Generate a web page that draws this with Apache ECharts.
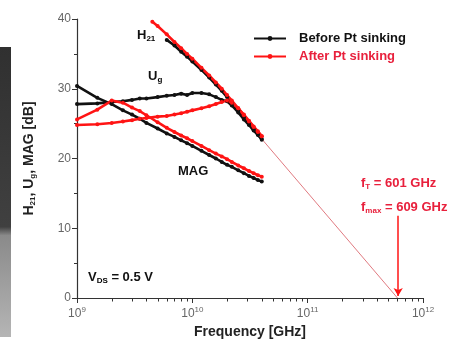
<!DOCTYPE html>
<html>
<head>
<meta charset="utf-8">
<script src="https://cdn.jsdelivr.net/npm/echarts@6.0.0/dist/echarts.min.js"></script>
<style>
  html, body { margin: 0; padding: 0; background: #fff; }
  #chart { width: 458px; height: 350px; }
</style>
</head>
<body>
<div id="chart"></div>
<script>
// ── data (frequency in GHz, gains in dB) ──
var freqGHz = [1, 1.5, 2, 2.5, 3, 3.5, 4, 5, 6, 7, 8, 9, 10, 12, 14, 16, 18, 20, 22, 25, 28, 31, 34, 37, 40];
var magBefore = [30.4, 28.7, 27.8, 26.9, 26.3, 25.7, 25.1, 24.3, 23.6, 23.1, 22.6, 22.2, 21.8, 21.1, 20.5, 20.0, 19.5, 19.1, 18.8, 18.3, 17.9, 17.5, 17.2, 16.9, 16.7];
var magAfter = [25.6, 27.0, 28.3, 28.0, 27.3, 26.8, 26.2, 25.2, 24.4, 23.8, 23.3, 22.9, 22.5, 21.8, 21.2, 20.7, 20.3, 19.9, 19.5, 19.0, 18.6, 18.2, 17.9, 17.6, 17.4];
var ugBefore = [27.8, 27.9, 28.1, 28.2, 28.4, 28.6, 28.6, 28.8, 29.0, 29.1, 29.3, 29.1, 29.4, 29.4, 29.2, 28.8, 28.4, 28.2, 27.6, 26.6, 25.6, 24.8, 24.0, 23.4, 22.8];
var ugAfter = [24.8, 24.9, 25.1, 25.3, 25.5, 25.7, 25.8, 26.0, 26.1, 26.3, 26.5, 26.7, 26.9, 27.2, 27.5, 27.8, 28.1, 28.3, 28.0, 27.2, 26.3, 25.4, 24.6, 23.9, 23.2];
var h21FreqBefore = [6, 7, 8, 9, 10, 12, 14, 16, 18, 20, 22, 25, 28, 31, 34, 37, 40];
var h21Before = [37.0, 36.2, 35.3, 34.6, 33.9, 32.7, 31.6, 30.6, 29.7, 28.8, 28.0, 26.9, 25.9, 25.0, 24.2, 23.4, 22.7];
var h21FreqAfter = [4.5, 5, 6, 7, 8, 9, 10, 12, 14, 16, 18, 20, 22, 25, 28, 31, 34, 37, 40];
var h21After = [39.6, 39.0, 37.8, 36.7, 35.8, 35.0, 34.3, 33.0, 31.9, 30.9, 30.0, 29.1, 28.3, 27.2, 26.2, 25.3, 24.5, 23.8, 23.2];
var extrapFreq = [40, 601];
var extrapDb = [22.8, 0];
var fmaxGHz = 609;
var minorMantissa = [2, 3, 4, 5, 6, 7, 8, 9];
var minorDecades = [1e9, 1e10, 1e11];

var BLACK = '#111111';
var RED = '#ff1414';
var TXT_RED = '#e8203c';
var FONT = 'Liberation Sans, Arial, sans-serif';

function pairs(fs, ys) {
    return fs.map(function (f, i) { return [f * 1e9, ys[i]]; });
}

function curve(name, color, fs, ys) {
    return {
        name: name,
        type: 'line',
        data: pairs(fs, ys),
        symbol: 'circle',
        symbolSize: 4,
        itemStyle: { color: color },
        lineStyle: { color: color, width: 2.6 },
        emphasis: { disabled: true },
    };
}

var chart = echarts.init(document.getElementById('chart'));

var sub = { fontSize: 8, fontWeight: 'bold', fontFamily: FONT, verticalAlign: 'bottom', padding: [6, 0, 0, 0] };

chart.setOption({
    animation: false,
    textStyle: { fontFamily: FONT },
    grid: { left: 77, right: 35, top: 19, bottom: 52 },
    legend: {
        left: 253, top: 32, padding: 0,
        orient: 'vertical',
        itemWidth: 32, itemHeight: 6, itemGap: 5,
        textStyle: { fontSize: 13, fontWeight: 'bold', fontFamily: FONT, color: BLACK, padding: [0, 0, 0, 8] },
        data: [
            { name: 'Before Pt sinking' },
            { name: 'After Pt sinking', textStyle: { color: TXT_RED } },
        ],
    },
    xAxis: {
        type: 'log', logBase: 10, min: 1e9, max: 1e12,
        name: 'Frequency [GHz]', nameLocation: 'middle', nameGap: 27,
        nameTextStyle: { fontSize: 14, fontWeight: 'bold', color: '#222' },
        axisLine: { lineStyle: { color: '#333', width: 1.2 } },
        axisTick: { length: 5, lineStyle: { color: '#333' } },
        splitLine: { show: false },
        axisLabel: {
            margin: 8, color: '#666',
            formatter: function (v) {
                return '10{s|' + Math.round(Math.log10(v)) + '}';
            },
            rich: { s: { fontSize: 8, color: '#666', padding: [0, 0, 7, 0] } },
            fontSize: 12,
        },
    },
    yAxis: {
        type: 'value', min: 0, max: 40, interval: 10,
        name: '{b|H}{s|21}{b|, U}{s|g}{b|, MAG [dB]}',
        nameLocation: 'middle', nameGap: 40,
        nameTextStyle: {
            rich: {
                b: { fontSize: 14, fontWeight: 'bold', color: '#222', fontFamily: FONT },
                s: { fontSize: 8, fontWeight: 'bold', color: '#222', fontFamily: FONT, verticalAlign: 'bottom', padding: [7, 0, 0, 0] },
            },
        },
        axisLine: { show: true, lineStyle: { color: '#333', width: 1.2 } },
        axisTick: { show: true, length: 5, lineStyle: { color: '#333' } },
        minorTick: { show: true, splitNumber: 2, length: 3, lineStyle: { color: '#333' } },
        splitLine: { show: false },
        axisLabel: { color: '#666', fontSize: 12, margin: 6 },
    },
    series: [
        curve('Before Pt sinking', BLACK, freqGHz, magBefore),
        curve('Before Pt sinking', BLACK, freqGHz, ugBefore),
        curve('Before Pt sinking', BLACK, h21FreqBefore, h21Before),
        curve('After Pt sinking', RED, freqGHz, magAfter),
        curve('After Pt sinking', RED, freqGHz, ugAfter),
        curve('After Pt sinking', RED, h21FreqAfter, h21After),
        {
            name: 'extrapolation',
            type: 'line',
            data: pairs(extrapFreq, extrapDb),
            symbol: 'none',
            lineStyle: { color: '#e07a80', width: 1 },
            emphasis: { disabled: true },
            markLine: {
                silent: true,
                symbol: ['none', 'arrow'],
                symbolSize: [7, 8],
                label: { show: false },
                lineStyle: { color: RED, width: 1.5, type: 'solid' },
                data: [[{ coord: [fmaxGHz * 1e9, 11.8] }, { coord: [fmaxGHz * 1e9, 0.3] }]],
            },
        },
    ],
});

// ── annotations, the dark strip on the left edge, and log minor ticks ──
var graphics = [
    {
        type: 'rect', left: 0, top: 47, z: 0,
        shape: { width: 11, height: 290 },
        style: {
            fill: new echarts.graphic.LinearGradient(0, 0, 0, 1, [
                { offset: 0, color: '#303030' },
                { offset: 0.62, color: '#404040' },
                { offset: 0.65, color: '#8a8a8a' },
                { offset: 1, color: '#b5b5b5' },
            ]),
        },
    },
    {
        type: 'text', left: 137, top: 29,
        style: { text: '{b|H}{s|21}', rich: { b: { fontSize: 13, fontWeight: 'bold', fontFamily: FONT, fill: BLACK }, s: sub } },
    },
    {
        type: 'text', left: 148, top: 70,
        style: { text: '{b|U}{s|g}', rich: { b: { fontSize: 13, fontWeight: 'bold', fontFamily: FONT, fill: BLACK }, s: sub } },
    },
    {
        type: 'text', left: 178, top: 165,
        style: { text: 'MAG', font: 'bold 13px ' + FONT, fill: BLACK },
    },
    {
        type: 'text', left: 88, top: 271,
        style: { text: '{b|V}{s|DS}{b| = 0.5 V}', rich: { b: { fontSize: 13, fontWeight: 'bold', fontFamily: FONT, fill: BLACK }, s: sub } },
    },
    {
        type: 'text', left: 361, top: 177,
        style: { text: '{b|f}{s|T}{b| = 601 GHz}', rich: { b: { fontSize: 13, fontWeight: 'bold', fontFamily: FONT, fill: TXT_RED }, s: Object.assign({}, sub, { fill: TXT_RED }) } },
    },
    {
        type: 'text', left: 361, top: 201,
        style: { text: '{b|f}{s|max}{b| = 609 GHz}', rich: { b: { fontSize: 13, fontWeight: 'bold', fontFamily: FONT, fill: TXT_RED }, s: Object.assign({}, sub, { fill: TXT_RED }) } },
    },
];

var axisY = chart.convertToPixel({ yAxisIndex: 0 }, 0);
minorDecades.forEach(function (d) {
    minorMantissa.forEach(function (m) {
        var px = Math.round(chart.convertToPixel({ xAxisIndex: 0 }, d * m)) + 0.5;
        graphics.push({
            type: 'line', z: 10, silent: true,
            shape: { x1: px, y1: axisY, x2: px, y2: axisY + 3.5 },
            style: { stroke: '#333', lineWidth: 1 },
        });
    });
});
chart.setOption({ graphic: graphics });

window.addEventListener('resize', function () { chart.resize(); });
</script>
</body>
</html>
